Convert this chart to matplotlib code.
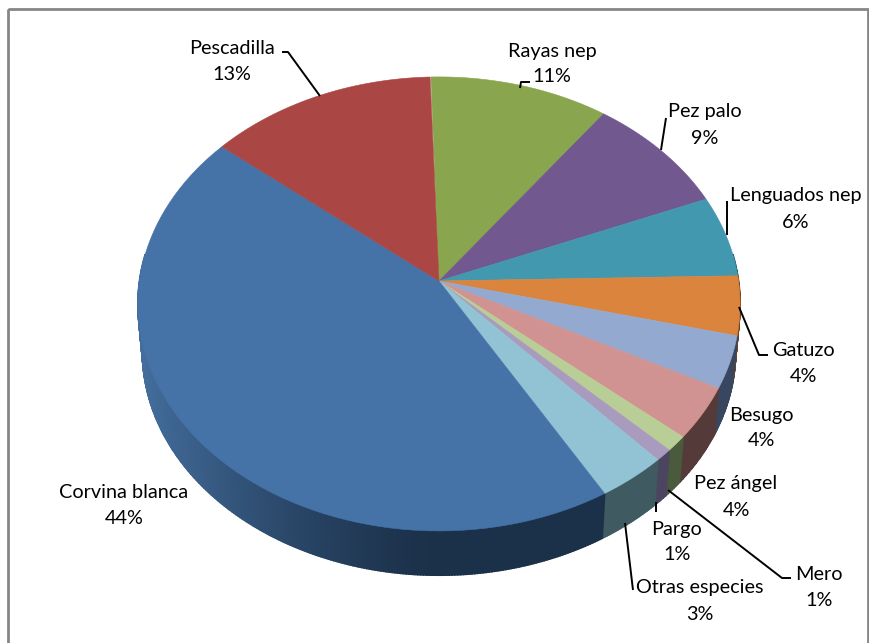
import numpy as np
import matplotlib
matplotlib.use("Agg")
import matplotlib.pyplot as plt
from matplotlib.patches import Polygon, Rectangle

# data: clockwise from the top of the pie
categories = ["Rayas nep", "Pez palo", "Lenguados nep", "Gatuzo", "Besugo", "Pez ángel",
              "Pargo", "Mero", "Otras especies", "Corvina blanca", "Pescadilla"]
values = [10.6, 8.7, 5.8, 4.2, 3.7, 3.7, 1.1, 0.85, 3.4, 44.4, 13.5]
percent_labels = ["11%", "9%", "6%", "4%", "4%", "4%", "1%", "1%", "3%", "44%", "13%"]

# styles
top_colors = ["#89A54E", "#71588F", "#4198AF", "#DB843D", "#93A9CF", "#D19392",
              "#B9CD96", "#A99BBD", "#92C3D4", "#4572A7", "#AA4643"]
wall_colors = ["#4a5c2c", "#3d3050", "#25566a", "#70431e", "#39465f", "#553a3a",
               "#4a5a3c", "#4b4560", "#3f5a60", "#1b3049", "#5c2523"]
label_pos = [(552, 51, 76), (705, 112, 139), (796, 196, 222), (803, 351, 377), (761, 415, 441),
             (736, 483, 510), (677, 529, 555), (819, 574, 600), (700, 588, 614), (124, 492, 518),
             (232, 48, 74)]
leaders = [[(530, 82), (521, 82), (520, 88)], [(666, 118), (661, 150)], [(727, 201), (727, 235)],
           [(739, 307), (759, 355), (768, 355)], None, None, [(656, 502), (656, 512)],
           [(668, 490), (782, 578), (791, 578)], [(625, 523), (633, 590)], None,
           [(282, 52), (288, 52), (320, 96)]]

CX, CY, K, A, B, DEPTH = 439, 281, 0.101, 224.7, 299.5, 48
START = 91.7

def project(t, scale=1.0, dy=0.0):
    t = np.radians(t)
    X, Y = np.cos(t), np.sin(t)
    d = 1 + K * Y
    return CX + scale * B * X / d, CY - scale * A * Y / d + dy

def blend(c, other, f):
    a = np.array(matplotlib.colors.to_rgb(c))
    b = np.array(matplotlib.colors.to_rgb(other))
    return a * (1 - f) + b * f

fig = plt.figure(figsize=(8.7, 6.43), dpi=100, facecolor="white")
ax = fig.add_axes([0, 0, 1, 1])
ax.set_xlim(0, 870)
ax.set_ylim(643, 0)
ax.axis("off")
ax.add_patch(Rectangle((8, 9), 860, 640, fill=False, ec="#868686", lw=2))

edges = START - np.cumsum([0] + values) * 3.6

# side wall
for i in range(len(values)):
    ts = np.linspace(edges[i], edges[i + 1], max(3, int(abs(edges[i + 1] - edges[i])) * 2 + 2))
    for a, b in zip(ts[:-1], ts[1:]):
        mid = np.radians((a + b) / 2)
        if np.sin(mid) > 0.12:
            continue
        x1, y1 = project(a); x2, y2 = project(b)
        x3, y3 = project(b, 0.985, DEPTH); x4, y4 = project(a, 0.985, DEPTH)
        xm = (x1 + x2) / 2
        col = matplotlib.colors.to_rgb(wall_colors[i])
        if xm < 440:
            col = blend(wall_colors[i], "#4a78ab", np.clip((440 - xm) / 300, 0, 1) ** 1.4 * 0.85)
        ax.add_patch(Polygon([(x1, y1), (x2, y2), (x3, y3), (x4, y4)], fc=col, ec=col, lw=1.2, zorder=2))

# top surface
for i in range(len(values)):
    ts = np.linspace(edges[i], edges[i + 1], 80)
    px, py = project(ts)
    pts = [(CX, CY)] + list(zip(px, py))
    ax.add_patch(Polygon(pts, fc=top_colors[i], ec=top_colors[i], lw=0.4, zorder=3))

# labels
font = dict(family="Lato", fontsize=14.3, color="black", ha="center", va="center", zorder=6)
for name, pct, (x, y1, y2), leader in zip(categories, percent_labels, label_pos, leaders):
    ax.text(x, y1, name, **font)
    ax.text(x, y2, pct, **font)
    if leader:
        lx, ly = zip(*leader)
        ax.plot(lx, ly, color="black", lw=1.4, zorder=5, solid_capstyle="butt")

fig.savefig("out.png", dpi=100)
